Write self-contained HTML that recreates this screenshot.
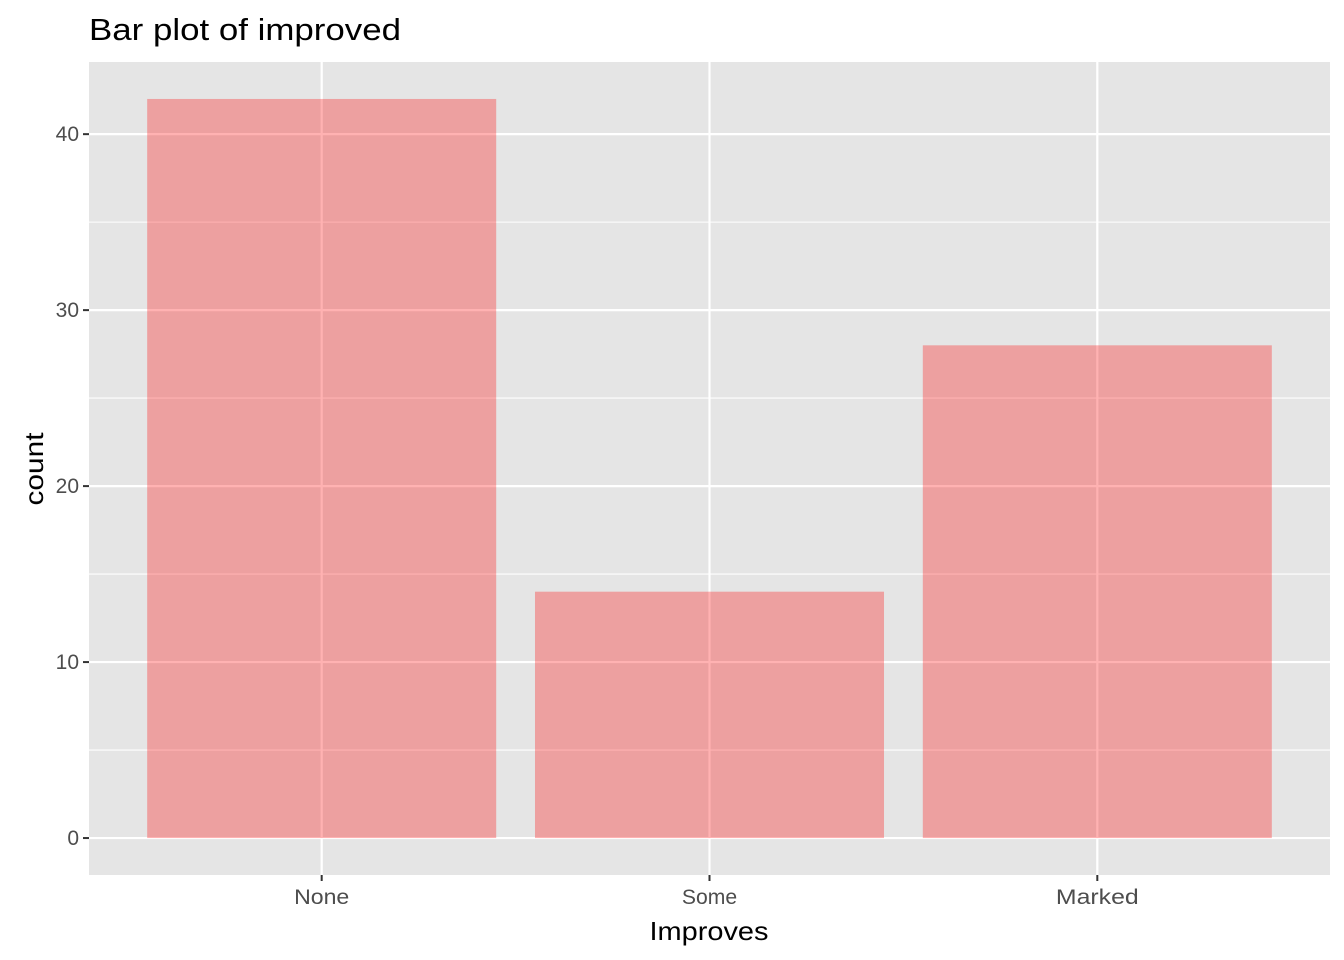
<!DOCTYPE html>
<html><head><meta charset="utf-8"><style>
html,body{margin:0;padding:0;background:#fff;}
svg{display:block;font-family:"Liberation Sans",Arial,sans-serif;}
</style></head><body>
<svg id="chart" width="1344" height="960" viewBox="0 0 1344 960">
<text x="89" y="40" font-size="31" textLength="312" lengthAdjust="spacingAndGlyphs" fill="#000">Bar plot of improved</text>
<rect x="89" y="62" width="1241" height="813" fill="#E5E5E5"/>
<g id="grid"></g>
<g id="bars"></g>
<g id="axes"></g>
<text x="709" y="940" font-size="26" textLength="119" lengthAdjust="spacingAndGlyphs" text-anchor="middle" fill="#000">Improves</text>
<text transform="translate(43,469) rotate(-90)" font-size="26" textLength="73" lengthAdjust="spacingAndGlyphs" text-anchor="middle" fill="#000">count</text>
</svg>
<script>
const categories = ["None", "Some", "Marked"];
const counts = [42, 14, 28];
const yTicks = [0, 10, 20, 30, 40];

const NS = "http://www.w3.org/2000/svg";
const px0 = 89, px1 = 1330, py0 = 62, py1 = 875;
const yMin = -2.1, yMax = 44.1;
function y(v){ return py1 - (v - yMin) / (yMax - yMin) * (py1 - py0); }
const step = (px1 - px0) / (categories.length + 0.2);
function x(i){ return px0 + step * (0.6 + i); }
const bw = step * 0.9;
function mk(tag, attrs, parent){ const e = document.createElementNS(NS, tag); for (const k in attrs) e.setAttribute(k, attrs[k]); parent.appendChild(e); return e; }
const grid = document.getElementById('grid'), bars = document.getElementById('bars'), axes = document.getElementById('axes');
for (let i = 0; i < yTicks.length - 1; i++) {
  const m = (yTicks[i] + yTicks[i+1]) / 2;
  const l = mk('line', {x1:px0, x2:px1, y1:y(m), y2:y(m), stroke:'#fff', 'stroke-width':1.1}, grid);
  
  
}
yTicks.forEach(t => {
  const l = mk('line', {x1:px0, x2:px1, y1:y(t), y2:y(t), stroke:'#fff', 'stroke-width':2.2}, grid);
  
  
  const tk = mk('line', {x1:px0-6, x2:px0, y1:y(t), y2:y(t), stroke:'#333', 'stroke-width':2}, axes);
  
  
  const tx = mk('text', {x:px0-10, y:y(t)+7, 'font-size':21, 'text-anchor':'end', fill:'#4D4D4D'}, axes);
  tx.textContent = t;
  
  
});
categories.forEach((c, i) => {
  const l = mk('line', {x1:x(i), x2:x(i), y1:py0, y2:py1, stroke:'#fff', 'stroke-width':2.2}, grid);
  
  
  const r = mk('rect', {x:x(i)-bw/2, y:y(counts[i]), width:bw, height:y(0)-y(counts[i]), fill:'rgba(255,0,0,0.3)'}, bars);
  
  
  const tk = mk('line', {x1:x(i), x2:x(i), y1:py1, y2:py1+6, stroke:'#333', 'stroke-width':2}, axes);
  
  
  const tx = mk('text', {x:x(i), y:py1+29, 'font-size':21, 'text-anchor':'middle', fill:'#4D4D4D', textLength: c.length * 13.8, lengthAdjust:'spacingAndGlyphs'}, axes);
  tx.textContent = c;
  
  
});
</script>
</body></html>
